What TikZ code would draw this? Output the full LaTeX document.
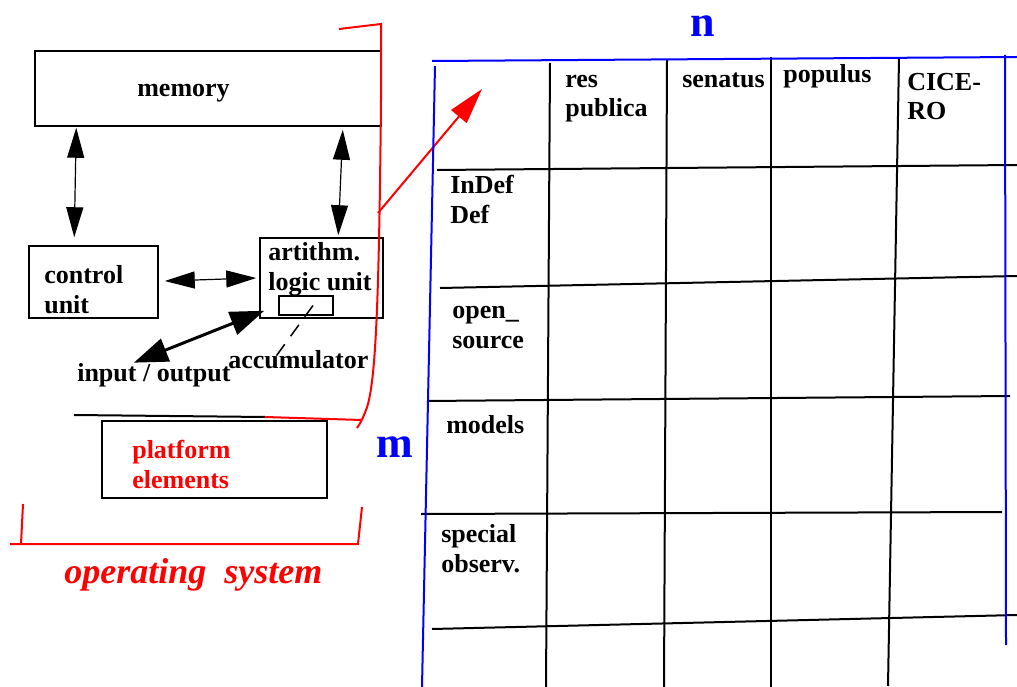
\documentclass[tikz,border=0pt]{standalone}
\usepackage{fontspec}
\setmainfont{Liberation Serif}
\usetikzlibrary{arrows.meta}
\usetikzlibrary{positioning}
\usetikzlibrary{calc}

\newcommand{\lblfont}{\fontsize{26}{29.5}\selectfont\bfseries}
\newcommand{\dimfont}{\fontsize{44}{48}\selectfont\bfseries}

\begin{document}
\begin{tikzpicture}[x=1pt,y=-1pt,semithick,
					box/.style={draw,line width=1.5pt,inner sep=0pt},
					lbl/.style={font=\lblfont,inner sep=0pt,align=left,anchor=base west},
					dbl/.style={{Triangle[length=30pt,width=17pt]}-{Triangle[length=30pt,width=17pt]},line width=1.2pt},
					io/.style={{Triangle[length=34pt,width=24pt]}-{Triangle[length=34pt,width=24pt]},line width=3pt},
					os/.style={red,line width=2pt},
					grid/.style={line width=2pt},
					border/.style={blue,line width=2pt}]
					\useasboundingbox (0,0) rectangle (1017,687);
					
					\node[box,minimum width=346pt,minimum height=75pt]  (mem)  at (208,88.5)  {};
					\node[box,minimum width=129pt,minimum height=72pt]  (ctrl) at (93.5,282)  {};
					\node[box,minimum width=123pt,minimum height=80pt]  (alu)  at (321.5,278) {};
					\node[box,minimum width=54pt,minimum height=19pt]   (acc)  at (306,305.5) {};
					\node[box,line width=2.5pt,minimum width=225pt,minimum height=77pt] (plat) at (214.5,459.5) {};
					
					\node[lbl] (meml)  at (137,97)  {memory};
					\node[lbl] (ctrll) at (44,313)  {control\\unit};
					\node[lbl] (alul)  at (268,290) {artithm.\\logic unit};
					\node[lbl] (accl)  at (228,368) {accumulator};
					\node[lbl] (iol)   at (77,381)  {input / output};
					\node[lbl,red] (platl) at (132,488) {platform\\elements};
					\node[font=\fontsize{36}{40}\selectfont\bfseries\itshape,red,inner sep=0pt,anchor=base west] (osl) at (64,583) {operating\ \ system};
					
					\draw[dbl] ([shift={(42,1)}]mem.south west) -- ([shift={(46,-8)}]ctrl.north west);
					\draw[dbl] ([shift={(-39,3)}]mem.south east) -- ([shift={(79,-2)}]alu.north west);
					\draw[dbl] ([shift={(6,-1)}]ctrl.east) -- ([shift={(-3,0)}]alu.west);
					\draw[io] ([shift={(-20,0)}]iol.north) -- ([shift={(5,-8)}]alu.south west);
					\draw[line width=1.5pt,dash pattern=on 14pt off 10pt] ([shift={(7,0)}]acc.center) -- ([shift={(47,8)}]accl.north west);
					
					\draw[line width=2pt] (74,415) -- (265,417);
					\draw[os] (339,29) -- (381,24) -- (381,100) .. controls (379,300) and (376,385) .. (366,410) .. controls (363,418) and (360,424) .. (357,428);
					\draw[os] (265,417) -- (362,420);
					\draw[os] (23,504) -- (21,544);
					\draw[os] (10,544) -- (358,544) -- (362,507);
					
					\coordinate (osedge) at (378,213);
					\coordinate (corner) at (482,89);
					\draw[os,-{Triangle[length=36pt,width=20pt]}] (osedge) -- (corner);
					
					\foreach \xa/\ya/\xb/\yb in {550/63/546/687,667/60/664/687,771/57/771/687,899/58/888/686}
						\draw[grid] (\xa,\ya) -- (\xb,\yb);
					\foreach \xa/\ya/\xb/\yb in {437/170/1017/165,440/288/1017/276,427/401/1010/396,421/514/1002/512,432/629/1017/615}
						\draw[grid] (\xa,\ya) -- (\xb,\yb);
					\draw[border] (432,61) -- (1017,57);
					\draw[border] (435,66) -- (422,687);
					\draw[border] (1005,55) -- (1006,645);
					
					\node[lbl] (res)  at (565,117) {res\\publica};
					\node[lbl] (sen)  at (682,88)  {senatus};
					\node[lbl] (pop)  at (783,83)  {populus};
					\node[lbl] (cic)  at (907,120) {CICE-\\RO};
					\node[lbl] (def)  at (450,223) {InDef\\Def};
					\node[lbl] (open) at (452,348) {open\_\\source};
					\node[lbl] (mod)  at (446,433) {models};
					\node[lbl] (spec) at (441,572) {special\\observ.};
					
					\node[font=\dimfont,blue,inner sep=0pt,anchor=base] (n) at (703,37)  {n};
					\node[font=\dimfont,blue,inner sep=0pt,anchor=base] (m) at (395,457) {m};
\end{tikzpicture}
\end{document}
